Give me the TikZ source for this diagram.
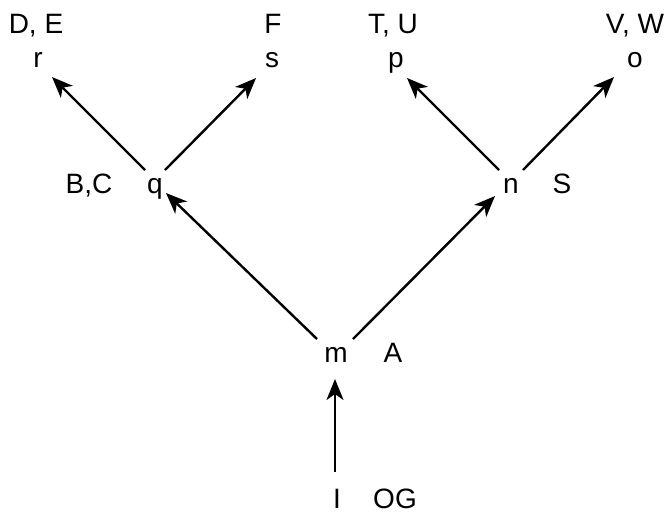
\documentclass[tikz,border=0pt]{standalone}
\usepackage{fontspec}
\setmainfont{Liberation Sans}
\usetikzlibrary{arrows.meta}
\tikzset{
  lbl/.style={anchor=base, inner sep=0pt, font=\fontsize{28}{33}\selectfont},
  edge/.style={line width=2.4pt, -{Stealth[length=21pt, width=17pt, inset=6pt]}}
}
\begin{document}
\begin{tikzpicture}[x=1pt,y=-1pt]
\useasboundingbox (0,0) rectangle (668,515);
% top labels
\node[lbl] (DE) at (36,33) {D, E};
\node[lbl] (F) at (273,33) {F};
\node[lbl] (TU) at (393,33) {T, U};
\node[lbl] (VW) at (635,33) {V, W};
% leaves
\node[lbl] (r) at (38,67) {r};
\node[lbl] (s) at (272,67) {s};
\node[lbl] (p) at (396,67) {p};
\node[lbl] (o) at (635,67) {o};
% middle
\node[lbl] (BC) at (89,193) {B,C};
\node[lbl] (q) at (155,193) {q};
\node[lbl] (n) at (511,193) {n};
\node[lbl] (S) at (562,193) {S};
% root
\node[lbl] (m) at (336,362) {m};
\node[lbl] (A) at (393,362) {A};
% bottom
\node[lbl] (I) at (337,508) {I};
\node[lbl] (OG) at (395,508) {OG};
% connectors
\draw[edge] ([shift={(-2,-36)}]I.base) -- ([shift={(-1,17)}]m.base);
\draw[edge] ([shift={(-19,-23)}]m.base) -- ([shift={(11,0)}]q.base);
\draw[edge] ([shift={(17,-23)}]m.base) -- ([shift={(-16,3)}]n.base);
\draw[edge] ([shift={(-10,-23)}]q.base) -- ([shift={(14,10)}]r.base);
\draw[edge] ([shift={(10,-23)}]q.base) -- ([shift={(-16,11)}]s.base);
\draw[edge] ([shift={(-12,-23)}]n.base) -- ([shift={(11,11)}]p.base);
\draw[edge] ([shift={(12,-23)}]n.base) -- ([shift={(-21,10)}]o.base);
\end{tikzpicture}
\end{document}
